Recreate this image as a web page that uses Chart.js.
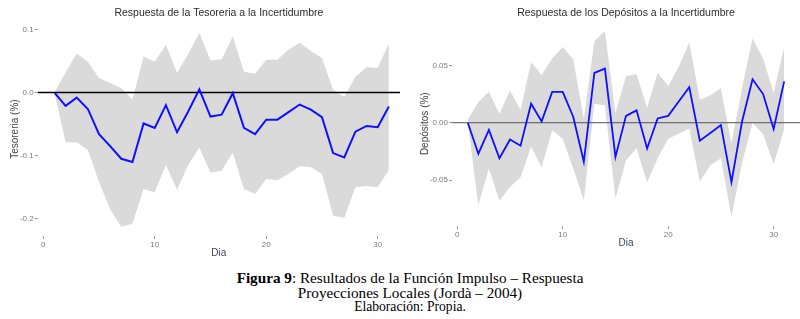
<!DOCTYPE html>
<html>
<head>
<meta charset="utf-8">
<script src="https://cdn.jsdelivr.net/npm/chart.js@4/dist/chart.umd.min.js"></script>
<style>
  body { margin: 0; background: #fff; width: 800px; height: 319px; overflow: hidden; position: relative; }
  #tes-chart { position: absolute; left: 0; top: 0; }
  #dep-chart { position: absolute; left: 400px; top: 0; }
  .caption { position: absolute; left: 10px; top: 270px; width: 800px; text-align: center;
    font-family: 'Liberation Serif', 'Times New Roman', serif; color: #000; }
  .caption .l1, .caption .l2 { font-size: 15.2px; line-height: 15px; }
  .caption .l3 { font-size: 13.6px; line-height: 13px; }
</style>
</head>
<body>
<canvas id="tes-chart" width="400" height="260"></canvas>
<canvas id="dep-chart" width="400" height="250"></canvas>
<div class="caption">
  <div class="l1"><b>Figura 9</b>: Resultados de la Función Impulso – Respuesta</div>
  <div class="l2">Proyecciones Locales (Jordà – 2004)</div>
  <div class="l3">Elaboración: Propia.</div>
</div>
<script>
//Horizon (days) shared by both panels
const days = [1, 2, 3, 4, 5, 6, 7, 8, 9, 10, 11, 12, 13, 14, 15, 16, 17, 18, 19, 20, 21, 22, 23, 24, 25, 26, 27, 28, 29, 30, 31];
const xTicks = [0, 10, 20, 30];
const xLabels = ['0', '10', '20', '30'];

//Tesoreria panel: response and confidence band
const tesResponse = [0, -0.021, -0.008, -0.026, -0.066, -0.085, -0.105, -0.110, -0.049, -0.056, -0.020, -0.063, -0.030, 0.005, -0.038, -0.035, -0.001, -0.056, -0.066, -0.043, -0.043, -0.031, -0.019, -0.027, -0.039, -0.096, -0.103, -0.062, -0.053, -0.055, -0.022];
const tesUpper = [0, 0.032, 0.062, 0.049, 0.023, 0.015, 0.007, -0.011, 0.057, 0.049, 0.076, 0.031, 0.061, 0.095, 0.051, 0.053, 0.089, 0.033, 0.030, 0.052, 0.052, 0.068, 0.079, 0.066, 0.055, 0.004, -0.007, 0.025, 0.040, 0.039, 0.078];
const tesLower = [0, -0.079, -0.079, -0.091, -0.142, -0.185, -0.213, -0.208, -0.153, -0.158, -0.115, -0.154, -0.115, -0.087, -0.127, -0.124, -0.095, -0.153, -0.161, -0.137, -0.139, -0.129, -0.117, -0.118, -0.129, -0.195, -0.199, -0.150, -0.148, -0.150, -0.123];
const tesYTicks = [-0.2, -0.1, 0, 0.1];
const tesYLabels = ['-0.2', '-0.1', '0.0', '0.1'];

//Depositos panel: response and confidence band
const depResponse = [0, -0.027, -0.0062, -0.031, -0.0146, -0.020, 0.0166, 0.0012, 0.0268, 0.0268, 0.005, -0.034, 0.0435, 0.0472, -0.0298, 0.006, 0.0108, -0.0225, 0.0037, 0.006, 0.0185, 0.031, -0.0157, -0.009, -0.002, -0.0518, 0.0008, 0.0378, 0.025, -0.0055, 0.036];
const depUpper = [0.003, 0.018, 0.027, 0.0075, 0.028, 0.011, 0.053, 0.0415, 0.056, 0.066, 0.055, 0.003, 0.071, 0.080, 0.008, 0.0405, 0.0425, 0.013, 0.0435, 0.032, 0.049, 0.070, 0.020, 0.024, 0.030, -0.018, 0.030, 0.0735, 0.056, 0.026, 0.066];
const depLower = [0, -0.072, -0.040, -0.068, -0.056, -0.0475, -0.021, -0.0387, -0.0067, -0.014, -0.040, -0.0677, 0.0166, 0.015, -0.066, -0.033, -0.022, -0.052, -0.031, -0.014, -0.0096, -0.005, -0.0514, -0.037, -0.031, -0.082, -0.035, 0.000, -0.010, -0.036, -0.006];
const depYTicks = [-0.05, 0, 0.05];
const depYLabels = ['-0.05', '0.00', '0.05'];

Chart.defaults.font.family = "'Liberation Sans', Arial, sans-serif";

function toPoints(values) {
  return values.map((v, i) => ({ x: days[i], y: v }));
}

function makePanel(canvasId, cfg) {
  const ctx = document.getElementById(canvasId).getContext('2d');
  return new Chart(ctx, {
    type: 'line',
    data: {
      datasets: [
        {
          //impulse response, drawn on top
          data: toPoints(cfg.response),
          borderColor: '#1010ff',
          borderWidth: cfg.lineWidth,
          pointRadius: 0,
          tension: 0,
          fill: false,
        },
        {
          //reference line at zero
          data: [{ x: cfg.xMin, y: 0 }, { x: cfg.xMax, y: 0 }],
          borderColor: cfg.zeroColor,
          borderWidth: cfg.zeroWidth,
          pointRadius: 0,
          fill: false,
        },
        {
          data: toPoints(cfg.upper),
          borderWidth: 0,
          borderColor: 'rgba(0,0,0,0)',
          backgroundColor: '#dadada',
          pointRadius: 0,
          tension: 0,
          fill: '+1',
        },
        {
          data: toPoints(cfg.lower),
          borderWidth: 0,
          borderColor: 'rgba(0,0,0,0)',
          pointRadius: 0,
          tension: 0,
          fill: false,
        },
      ],
    },
    options: {
      responsive: false,
      animation: false,
      devicePixelRatio: 1,
      layout: { padding: 0 },
      plugins: {
        legend: { display: false },
        tooltip: { enabled: false },
        title: {
          display: true,
          text: cfg.title,
          fullSize: false,
          color: '#2b2b2b',
          font: { size: 10.5, weight: 'normal' },
          padding: { top: 6.5, bottom: cfg.titleGap },
        },
      },
      scales: {
        x: {
          type: 'linear',
          min: cfg.xMin,
          max: cfg.xMax,
          afterBuildTicks: (axis) => {
            axis.ticks = xTicks.map((v) => ({ value: v }));
          },
          afterFit: (axis) => {
            axis.height = cfg.xAxisHeight;
          },
          ticks: {
            color: '#7a7a7a',
            font: { size: 8 },
            padding: 1,
            maxRotation: 0,
            callback: (v, i) => xLabels[i],
          },
          grid: { drawOnChartArea: false, drawTicks: true, tickLength: 3, tickColor: '#9a9a9a' },
          border: { display: false },
          title: {
            display: true,
            text: 'Dia',
            color: '#3c4658',
            font: { size: 10 },
            padding: { top: 0, bottom: 1 },
          },
        },
        y: {
          min: cfg.yMin,
          max: cfg.yMax,
          afterBuildTicks: (axis) => {
            axis.ticks = cfg.yTicks.map((v) => ({ value: v }));
          },
          afterFit: (axis) => {
            axis.width = cfg.yAxisWidth;
          },
          ticks: {
            color: '#7a7a7a',
            font: { size: 8 },
            padding: 1,
            callback: (v, i) => cfg.yLabels[i],
          },
          grid: { drawOnChartArea: false, drawTicks: true, tickLength: 3, tickColor: '#9a9a9a' },
          border: { display: false },
          title: {
            display: true,
            text: cfg.yTitle,
            color: '#444',
            font: { size: 10 },
            padding: { top: cfg.yTitlePad, bottom: 0 },
          },
        },
      },
    },
  });
}

makePanel('tes-chart', {
  title: 'Respuesta de la Tesoreria a la Incertidumbre',
  yTitle: 'Tesoreria (%)',
  response: tesResponse,
  upper: tesUpper,
  lower: tesLower,
  yTicks: tesYTicks,
  yLabels: tesYLabels,
  xMin: -0.5,
  xMax: 32,
  yMin: -0.2275,
  yMax: 0.1116,
  yAxisWidth: 37.7,
  xAxisHeight: 24,
  yTitlePad: 9,
  titleGap: 3.1,
  lineWidth: 2,
  zeroColor: '#000',
  zeroWidth: 1.6,
});

makePanel('dep-chart', {
  title: 'Respuesta de los Depósitos a la Incertidumbre',
  yTitle: 'Depósitos (%)',
  response: depResponse,
  upper: depUpper,
  lower: depLower,
  yTicks: depYTicks,
  yLabels: depYLabels,
  xMin: -0.5,
  xMax: 32.5,
  yMin: -0.09,
  yMax: 0.0883,
  yAxisWidth: 52,
  xAxisHeight: 24,
  yTitlePad: 19,
  titleGap: 2.3,
  lineWidth: 1.8,
  zeroColor: '#555',
  zeroWidth: 1,
});
</script>
</body>
</html>
